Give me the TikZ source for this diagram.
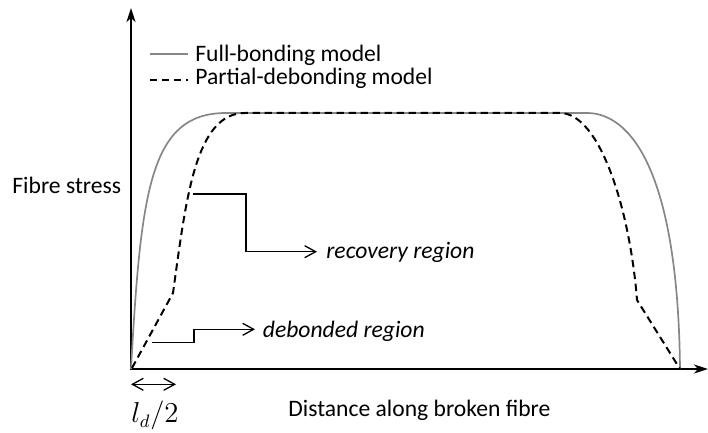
\documentclass[tikz,border=0pt]{standalone}
\usepackage{fontspec}
\setmainfont{Carlito}
\usetikzlibrary{arrows.meta}
\definecolor{fullgray}{RGB}{135,135,135}
\begin{document}
\begin{tikzpicture}[x=0.5pt,y=-0.5pt,
  axis/.style={line width=1pt, line join=miter,
    {Stealth[length=7pt,width=4.5pt,inset=2pt]}-{Stealth[length=7pt,width=4.5pt,inset=2pt]}},
  full/.style={line width=0.85pt, draw=fullgray},
  partial/.style={line width=1pt, dash pattern=on 3.7pt off 2.3pt},
  leader/.style={line width=0.65pt, -{Straight Barb[length=5.5pt,width=6pt]}},
  dimarrow/.style={line width=0.65pt, {Straight Barb[length=5.5pt,width=6pt]}-{Straight Barb[length=5.5pt,width=6pt]}},
  lbl/.style={inner sep=0pt, anchor=base west, font=\fontsize{11.8pt}{14pt}\selectfont},
  ilbl/.style={lbl, font=\fontsize{11.8pt}{14pt}\selectfont\itshape}]
\useasboundingbox (0,0) rectangle (708,433);

% axes
\coordinate (O) at (131,369);
\coordinate (ytop) at (131,8);
\coordinate (xend) at (708,369);
\draw[axis] (ytop) -- (O) -- (xend);

% legend
\coordinate (lg1a) at (150,54);  \coordinate (lg1b) at (188,54);
\coordinate (lg2a) at (150,80);  \coordinate (lg2b) at (188,80);
\draw[full] (lg1a) -- (lg1b);
\draw[partial] (lg2a) -- (lg2b);
\node[lbl] (fullL) at (195,61.5) {Full-bonding model};
\node[lbl] (partL) at (195,85) {Partial-debonding model};

% curves
\coordinate (gEnd) at (680,369);
\draw[full] (O) .. controls (141,190) and (150,113) .. (226,113)
  -- (587,113) .. controls (630,113) and (678,170) .. (gEnd);
\coordinate (dStart) at (132,368);
\coordinate (dKinkL) at (173,293);
\coordinate (dKinkR) at (637,300);
\draw[partial] (dStart) -- (dKinkL) .. controls (186,200) and (195,113) .. (245,113)
  -- (560,113) .. controls (600,113) and (630,210) .. (dKinkR) -- (gEnd);

% axis labels
\node[lbl] (ylab) at (12,193.5) {Fibre stress};
\node[lbl] (xlab) at (288,416.7) {Distance along broken fibre};

% region labels and leaders
\node[ilbl] (rec) at (326,258.5) {recovery region};
\node[ilbl] (deb) at (262.5,337.3) {debonded region};
\coordinate (recA) at (193,194);
\coordinate (recB) at (317,251.7);
\draw[leader] (recA) -- ++(53,0) |- (recB);
\coordinate (debA) at (151.7,342.7);
\coordinate (debB) at (255,329.3);
\draw[leader] (debA) -- ++(42.3,0) |- (debB);

% l_d/2 dimension
\coordinate (ldA) at (131,384.3);
\coordinate (ldB) at (176,384.3);
\draw[dimarrow] (ldA) -- (ldB);
\node[lbl, font=\fontsize{13.5pt}{16pt}\selectfont] (ld) at (131,422.7) {$l_d/2$};
\end{tikzpicture}
\end{document}
